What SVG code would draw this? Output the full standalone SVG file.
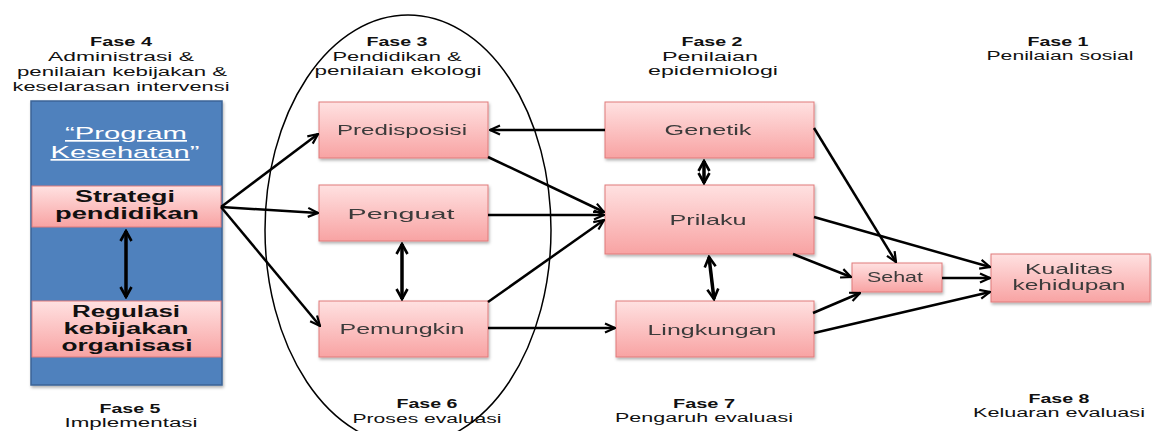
<svg xmlns="http://www.w3.org/2000/svg" width="1152" height="431" viewBox="0 0 1152 431">
<style>
.ph{font-family:"Liberation Sans",Arial,sans-serif;font-size:12.5px;fill:#111;text-anchor:middle}
.phb{font-weight:bold}
.bx{fill:url(#pink);stroke:#e07a7a;stroke-width:1}
.bt{font-family:"Liberation Sans",Arial,sans-serif;font-size:15px;fill:#3a3a3a;text-anchor:middle}
.bb{font-family:"Liberation Sans",Arial,sans-serif;font-size:16px;font-weight:bold;fill:#111;text-anchor:middle}
.pk{font-family:"Liberation Sans",Arial,sans-serif;font-size:17px;fill:#fff;text-anchor:middle}
.ln{stroke:#000;stroke-width:2.5;fill:none;marker-end:url(#ah)}
.dbl{stroke:#000;stroke-width:3.5;fill:none;marker-end:url(#ah2);marker-start:url(#ah2s)}
</style>
<defs>
<linearGradient id="pink" x1="0" y1="0" x2="0" y2="1">
<stop offset="0" stop-color="#ffe1e1"/>
<stop offset="1" stop-color="#f8a3a3"/>
</linearGradient>
<filter id="sh" x="-10%" y="-10%" width="130%" height="140%">
<feDropShadow dx="1" dy="2" stdDeviation="1.5" flood-color="#000" flood-opacity="0.3"/>
</filter>
<marker id="ah" viewBox="0 0 12 12" refX="11" refY="6" markerWidth="12" markerHeight="12" markerUnits="userSpaceOnUse" orient="auto">
<path d="M1,1.5 L11,6 L1,10.5" fill="none" stroke="#000" stroke-width="2.2"/>
</marker>
<marker id="ah2" viewBox="0 0 14 14" refX="12" refY="7" markerWidth="14" markerHeight="14" markerUnits="userSpaceOnUse" orient="auto">
<path d="M2,1.5 L12,7 L2,12.5" fill="none" stroke="#000" stroke-width="2.6"/>
</marker>
<marker id="ah2s" viewBox="0 0 14 14" refX="2" refY="7" markerWidth="14" markerHeight="14" markerUnits="userSpaceOnUse" orient="auto">
<path d="M12,1.5 L2,7 L12,12.5" fill="none" stroke="#000" stroke-width="2.6"/>
</marker>
</defs>
<rect width="1152" height="431" fill="#fff"/>

<g id="phase-labels">
<text class="ph phb" x="121" y="46" textLength="62" lengthAdjust="spacingAndGlyphs">Fase 4</text>
<text class="ph" x="121" y="61" textLength="146" lengthAdjust="spacingAndGlyphs">Administrasi &amp;</text>
<text class="ph" x="122" y="76" textLength="210" lengthAdjust="spacingAndGlyphs">penilaian kebijakan &amp;</text>
<text class="ph" x="121" y="91" textLength="217" lengthAdjust="spacingAndGlyphs">keselarasan intervensi</text>
<text class="ph phb" x="397" y="46" textLength="61" lengthAdjust="spacingAndGlyphs">Fase 3</text>
<text class="ph" x="397" y="61" textLength="129" lengthAdjust="spacingAndGlyphs">Pendidikan &amp;</text>
<text class="ph" x="398" y="75" textLength="167" lengthAdjust="spacingAndGlyphs">penilaian ekologi</text>
<text class="ph phb" x="712" y="46" textLength="61" lengthAdjust="spacingAndGlyphs">Fase 2</text>
<text class="ph" x="710" y="61" textLength="96" lengthAdjust="spacingAndGlyphs">Penilaian</text>
<text class="ph" x="713" y="75" textLength="130" lengthAdjust="spacingAndGlyphs">epidemiologi</text>
<text class="ph phb" x="1058" y="46" textLength="61" lengthAdjust="spacingAndGlyphs">Fase 1</text>
<text class="ph" x="1060" y="60" textLength="147" lengthAdjust="spacingAndGlyphs">Penilaian sosial</text>
<text class="ph phb" x="130" y="413" textLength="61" lengthAdjust="spacingAndGlyphs">Fase 5</text>
<text class="ph" x="131" y="427" textLength="133" lengthAdjust="spacingAndGlyphs">Implementasi</text>
<text class="ph phb" x="427" y="408" textLength="61" lengthAdjust="spacingAndGlyphs">Fase 6</text>
<text class="ph" x="427" y="423" textLength="149" lengthAdjust="spacingAndGlyphs">Proses evaluasi</text>
<text class="ph phb" x="704" y="408" textLength="62" lengthAdjust="spacingAndGlyphs">Fase 7</text>
<text class="ph" x="704" y="422" textLength="178" lengthAdjust="spacingAndGlyphs">Pengaruh evaluasi</text>
<text class="ph phb" x="1059" y="403" textLength="61" lengthAdjust="spacingAndGlyphs">Fase 8</text>
<text class="ph" x="1059" y="417" textLength="172" lengthAdjust="spacingAndGlyphs">Keluaran evaluasi</text>
</g>

<g id="program">
<rect x="31" y="101" width="191" height="284" fill="#4f81bd" stroke="#3b6496" stroke-width="1.5" filter="url(#sh)"/>
<text class="pk" x="126" y="139" text-decoration="underline" textLength="122" lengthAdjust="spacingAndGlyphs">“Program</text>
<text class="pk" x="125" y="158" textLength="149" lengthAdjust="spacingAndGlyphs"><tspan text-decoration="underline">Kesehatan</tspan>”</text>
</g>

<g id="strategi">
<rect class="bx" x="32" y="186" width="189" height="41"/>
<text class="bb" x="125" y="202" textLength="100" lengthAdjust="spacingAndGlyphs">Strategi</text>
<text class="bb" x="127" y="219" textLength="144" lengthAdjust="spacingAndGlyphs">pendidikan</text>
</g>

<g id="regulasi">
<rect class="bx" x="32" y="301" width="189" height="56"/>
<text class="bb" x="126" y="317" textLength="108" lengthAdjust="spacingAndGlyphs">Regulasi</text>
<text class="bb" x="126" y="334" textLength="125" lengthAdjust="spacingAndGlyphs">kebijakan</text>
<text class="bb" x="127" y="351" textLength="131" lengthAdjust="spacingAndGlyphs">organisasi</text>
</g>

<g id="predisposisi" filter="url(#sh)">
<rect class="bx" x="319" y="102" width="169" height="56"/>
<text class="bt" x="402" y="135" textLength="130" lengthAdjust="spacingAndGlyphs">Predisposisi</text>
</g>
<g id="penguat" filter="url(#sh)">
<rect class="bx" x="319" y="185" width="169" height="56"/>
<text class="bt" x="401" y="219" font-size="16" textLength="107" lengthAdjust="spacingAndGlyphs">Penguat</text>
</g>
<g id="pemungkin" filter="url(#sh)">
<rect class="bx" x="319" y="301" width="169" height="56"/>
<text class="bt" x="402" y="334" textLength="125" lengthAdjust="spacingAndGlyphs">Pemungkin</text>
</g>
<g id="genetik" filter="url(#sh)">
<rect class="bx" x="605" y="102" width="209" height="56"/>
<text class="bt" x="708" y="135" textLength="87" lengthAdjust="spacingAndGlyphs">Genetik</text>
</g>
<g id="prilaku" filter="url(#sh)">
<rect class="bx" x="605" y="185" width="209" height="69"/>
<text class="bt" x="708" y="225" textLength="77" lengthAdjust="spacingAndGlyphs">Prilaku</text>
</g>
<g id="lingkungan" filter="url(#sh)">
<rect class="bx" x="616" y="301" width="198" height="56"/>
<text class="bt" x="712" y="335" textLength="129" lengthAdjust="spacingAndGlyphs">Lingkungan</text>
</g>
<g id="sehat" filter="url(#sh)">
<rect class="bx" x="852" y="263" width="90" height="29"/>
<text class="bt" x="895" y="282" font-size="13" textLength="56" lengthAdjust="spacingAndGlyphs">Sehat</text>
</g>
<g id="kualitas" filter="url(#sh)">
<rect class="bx" x="991" y="254" width="159" height="48"/>
<text class="bt" x="1069" y="274" font-size="14" textLength="88" lengthAdjust="spacingAndGlyphs">Kualitas</text>
<text class="bt" x="1069" y="290" font-size="14" textLength="113" lengthAdjust="spacingAndGlyphs">kehidupan</text>
</g>

<g id="connectors">
<line class="dbl" x1="126" y1="231" x2="126" y2="297"/>
<line class="ln" x1="221" y1="207" x2="318" y2="134"/>
<line class="ln" x1="221" y1="207" x2="318" y2="213"/>
<line class="ln" x1="221" y1="207" x2="320" y2="326"/>
<line class="ln" x1="605" y1="130" x2="490" y2="130"/>
<line class="ln" x1="488" y1="157" x2="604" y2="212"/>
<line class="ln" x1="488" y1="215" x2="604" y2="215"/>
<line class="ln" x1="488" y1="302" x2="604" y2="220"/>
<line class="ln" x1="488" y1="328" x2="615" y2="328"/>
<line class="dbl" x1="402" y1="244" x2="402" y2="299"/>
<line class="dbl" x1="704" y1="161" x2="704" y2="183"/>
<line class="dbl" x1="709" y1="257" x2="714" y2="299"/>
<line class="ln" x1="814" y1="128" x2="896" y2="262"/>
<line class="ln" x1="814" y1="217" x2="990" y2="267"/>
<line class="ln" x1="793" y1="254" x2="851" y2="277"/>
<line class="ln" x1="813" y1="313" x2="860" y2="293"/>
<line class="ln" x1="814" y1="333" x2="990" y2="292"/>
<line class="ln" x1="942" y1="278" x2="990" y2="278"/>
</g>

<ellipse id="fase3-oval" cx="408" cy="230" rx="143" ry="215" fill="none" stroke="#000" stroke-width="1.5"/>
</svg>
